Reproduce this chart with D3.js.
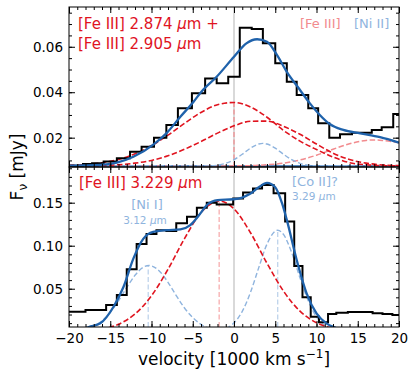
<!DOCTYPE html>
<html>
<head>
<meta charset="utf-8">
<script src="https://cdn.jsdelivr.net/npm/d3@7"></script>
<style>
body { margin: 0; background: #fff; }
text { font-family: "DejaVu Sans", sans-serif; }
</style>
</head>
<body>
<svg id="chart" width="415" height="378"></svg>
<script>
// ---- top panel: [Fe III] 2.874 + 2.905 um ----
// binned spectrum: left bin edge (1000 km/s) and flux (mJy)
const topEdges = [-20, -18.3, -17.2, -15.8, -14.2, -12.6, -11.2, -9.7, -8.2, -6.8, -5.1, -3.5, -2.1, -0.7,
    0.7, 2.15, 3.5, 5.0, 6.4, 7.6, 9.0, 10.2, 11.55, 12.85, 14.3, 16.7, 17.9, 19.3];
const topFlux = [0.0077, 0.0084, 0.0088, 0.0095, 0.0109, 0.0138, 0.016, 0.020, 0.0256, 0.0329, 0.0395, 0.046, 0.0439, 0.0468,
    0.0684, 0.0678, 0.0615, 0.0527, 0.0446, 0.0388, 0.0329, 0.0263, 0.020, 0.0215, 0.0222, 0.0234, 0.0246, 0.0304];

// total fit
const topFitV = [-20, -16.2, -14.2, -12.2, -9.7, -8.2, -6.5, -4.9, -4, -2.1, 0, 1.5, 2.8, 4, 5.2, 6.4, 8, 9.2, 10.4, 11.6, 13.25, 15.3, 17.7, 20];
const topFitF = [0.0077, 0.0080, 0.0090, 0.0116, 0.0172, 0.0219, 0.0292, 0.0358, 0.0400, 0.0468, 0.0556, 0.0615, 0.0633, 0.0622, 0.0564, 0.049, 0.041, 0.0351, 0.030, 0.026, 0.0234, 0.0219, 0.0202, 0.0178];

// components, read on a 2 unit grid
const topGrid = [-20, -18, -16, -14, -12, -10, -8, -6, -4, -2, 0, 2, 4, 6, 8, 10, 12, 14, 16, 18, 20];
const topFeA = [0.0078, 0.0082, 0.0090, 0.0104, 0.0129, 0.0165, 0.0211, 0.0263, 0.0311, 0.0345, 0.0355, 0.0335, 0.0290, 0.0232, 0.0185, 0.0148, 0.0115, 0.0090, 0.0081, 0.0077, 0.0076];
const topFeB = [0.0075, 0.0076, 0.0078, 0.0081, 0.0088, 0.0100, 0.0120, 0.0149, 0.0183, 0.0220, 0.0252, 0.0272, 0.0273, 0.0250, 0.0215, 0.0172, 0.0132, 0.0104, 0.0088, 0.0080, 0.0077];
const topNiV = [-20, -3, -2, -1, 0, 1, 2, 3, 3.5, 4, 5, 6, 7, 8, 9, 10, 20];
const topNiF = [0.0075, 0.0076, 0.0079, 0.0087, 0.0103, 0.0127, 0.0154, 0.0172, 0.0175, 0.0172, 0.0154, 0.0127, 0.0103, 0.0087, 0.0079, 0.0076, 0.0075];
const topFe3V = [-20, -4, 0, 2, 4, 6, 8, 10, 12, 14, 16, 17, 18, 20];
const topFe3F = [0.0075, 0.0075, 0.0076, 0.0077, 0.0081, 0.0088, 0.0102, 0.0123, 0.0149, 0.0173, 0.0188, 0.019, 0.0188, 0.0178];
const topCont = 0.0075;
const topMarkV = 0, topMarkF = 0.0355;

// ---- bottom panel: [Fe III] 3.229 um ----
const botEdges = [-20, -18.0, -15.5, -14.2, -13.0, -11.8, -10.6, -9.4, -8.2, -7.0, -5.7, -4.5, -3.3, -2.1, -0.1,
    1.1, 2.3, 3.4, 4.8, 6.2, 7.3, 8.3, 9.3, 10.3, 11.4, 12.4, 13.8, 15.6, 16.8, 18.0, 19.2];
const botFlux = [0.0233, 0.0252, 0.031, 0.0427, 0.0726, 0.102, 0.1136, 0.118, 0.117, 0.126, 0.1337, 0.144, 0.150, 0.148, 0.155,
    0.162, 0.1665, 0.1706, 0.161, 0.128, 0.0764, 0.040, 0.0174, 0.011, 0.0206, 0.0221, 0.0229, 0.023, 0.0214, 0.0206, 0.0194];

const botFitV = [-19, -17.6, -16.2, -14.6, -13.4, -12.2, -11, -9.8, -8.2, -6.5, -5.3, -4.2, -3.2, -2, -0.1, 1, 1.9, 3, 4, 5, 5.8, 6.4, 7.6, 8.8, 10, 11.2, 12.3, 13.5];
const botFitF = [0, 0.0055, 0.0098, 0.029, 0.052, 0.085, 0.108, 0.116, 0.118, 0.119, 0.124, 0.136, 0.148, 0.153, 0.154, 0.156, 0.160, 0.168, 0.173, 0.168, 0.150, 0.130, 0.0834, 0.0447, 0.0214, 0.0098, 0.0045, 0];

const botFeV = [-20, -16, -14, -12, -10, -8, -6, -4, -1.8, 0, 2, 4, 6, 8, 10, 12, 14, 16, 20];
const botFeF = [0.0003, 0.0031, 0.0087, 0.0206, 0.0418, 0.0726, 0.1083, 0.1385, 0.152, 0.1428, 0.1151, 0.0796, 0.0472, 0.0239, 0.0104, 0.0039, 0.0012, 0.0003, 0];
const botNiV = [-20, -18, -17, -16, -15, -14, -13, -12, -11, -10.3, -9, -8, -7, -6, -4, -2, 0, 20];
const botNiF = [0.0004, 0.0029, 0.0064, 0.0127, 0.0226, 0.036, 0.0514, 0.0656, 0.0749, 0.077, 0.0701, 0.0574, 0.042, 0.0276, 0.0085, 0.0017, 0.0002, 0];
const botCoV = [-20, -2, 0, 1, 2, 3, 4, 5.3, 6, 7, 8, 9, 10, 11, 12, 14, 20];
const botCoF = [0, 0.0011, 0.0103, 0.0236, 0.0458, 0.0745, 0.1019, 0.118, 0.1131, 0.0918, 0.0626, 0.0359, 0.0173, 0.007, 0.0024, 0.0001, 0];
const botMarks = [[-1.8, 0.152, "fe"], [-10.4, 0.077, "ni"], [5.3, 0.118, "ni"]];

const xTicks = [-20, -15, -10, -5, 0, 5, 10, 15, 20];
const topYTicks = [0.02, 0.04, 0.06];
const botYTicks = [0.05, 0.10, 0.15];

const RED = "#e0141f", PINK = "#f28b8e", LBLUE = "#8fb4de", BLUE = "#1f62ab";

const svg = d3.select("#chart");
const x = d3.scaleLinear().domain([-20, 20]).range([69, 399]);
const yTop = d3.scaleLinear().domain([0.0071, 0.0775]).range([167, 7]);
const yBot = d3.scaleLinear().domain([0.0055, 0.1915]).range([327, 167]);

const defs = svg.append("defs");

function pts(vs, fs) { return vs.map((v, i) => [v, fs[i]]); }

function panel(id, y, yTicks, yMinorStep) {
    const y0 = y.range()[1], y1 = y.range()[0];
    defs.append("clipPath").attr("id", id)
        .append("rect").attr("x", 69).attr("y", y0).attr("width", 330).attr("height", y1 - y0);
    const g = svg.append("g");
    const plot = g.append("g").attr("clip-path", `url(#${id})`);

    // zero velocity line
    plot.append("line")
        .attr("x1", x(0)).attr("x2", x(0)).attr("y1", y0).attr("y2", y1)
        .attr("stroke", "#cccccc").attr("stroke-width", 1.5);

    // axes with inward ticks
    const minorY = d3.range(Math.ceil(y.domain()[0] / yMinorStep) * yMinorStep, y.domain()[1], yMinorStep);
    const minorX = d3.range(-20, 21, 1);
    const ax = g.append("g");
    ax.append("g").attr("transform", "translate(69,0)")
        .call(d3.axisLeft(y).tickValues(yTicks).tickSize(-6).tickSizeOuter(0).tickPadding(6).tickFormat(d3.format(".2f")));
    ax.append("g").attr("transform", "translate(69,0)")
        .call(d3.axisLeft(y).tickValues(minorY).tickSize(-3).tickSizeOuter(0).tickFormat(""));
    ax.append("g").attr("transform", "translate(399,0)")
        .call(d3.axisRight(y).tickValues(yTicks).tickSize(-6).tickSizeOuter(0).tickFormat(""));
    ax.append("g").attr("transform", "translate(399,0)")
        .call(d3.axisRight(y).tickValues(minorY).tickSize(-3).tickSizeOuter(0).tickFormat(""));
    ax.append("g").attr("transform", `translate(0,${y0})`)
        .call(d3.axisTop(x).tickValues(xTicks).tickSize(-6).tickSizeOuter(0).tickFormat(""));
    ax.append("g").attr("transform", `translate(0,${y0})`)
        .call(d3.axisTop(x).tickValues(minorX).tickSize(-3).tickSizeOuter(0).tickFormat(""));
    ax.append("g").attr("class", "xb").attr("transform", `translate(0,${y1})`)
        .call(d3.axisBottom(x).tickValues(xTicks).tickSize(-6).tickSizeOuter(0).tickPadding(6).tickFormat(d3.format("d")));
    ax.append("g").attr("transform", `translate(0,${y1})`)
        .call(d3.axisBottom(x).tickValues(minorX).tickSize(-3).tickSizeOuter(0).tickFormat(""));
    ax.selectAll(".domain").remove();
    ax.selectAll("g").attr("font-family", "DejaVu Sans").attr("font-size", 13.5);
    ax.selectAll(".tick line").attr("stroke", "#000").attr("stroke-width", 1);
    ax.selectAll(".tick text").attr("fill", "#000");

    return { g, plot, y };
}

function curve(p, data, color, width, dash) {
    const line = d3.line().x(d => x(d[0])).y(d => p.y(d[1])).curve(d3.curveMonotoneX);
    p.plot.append("path").datum(data)
        .attr("d", line).attr("fill", "none")
        .attr("stroke", color).attr("stroke-width", width)
        .attr("stroke-dasharray", dash || null);
}

function steps(p, edges, flux) {
    const data = edges.map((e, i) => [e, flux[i]]);
    data.push([20, flux[flux.length - 1]]);
    const line = d3.line().x(d => x(d[0])).y(d => p.y(d[1])).curve(d3.curveStepAfter);
    p.plot.append("path").datum(data)
        .attr("d", line).attr("fill", "none")
        .attr("stroke", "#000").attr("stroke-width", 2);
}

function marker(p, v, f, color) {
    p.plot.append("line")
        .attr("x1", x(v)).attr("x2", x(v)).attr("y1", p.y.range()[0]).attr("y2", p.y(f))
        .attr("stroke", color).attr("stroke-width", 1.2).attr("stroke-dasharray", "5,2.5");
}

// ---- top panel ----
const pt = panel("clipTop", yTop, topYTicks, 0.005);
pt.g.select(".xb").selectAll(".tick text").remove();
marker(pt, topMarkV, topMarkF, PINK);
curve(pt, [[-20, topCont], [20, topCont]], BLUE, 1.5);
curve(pt, pts(topFe3V, topFe3F), PINK, 1.5, "5.5,2.5");
curve(pt, pts(topNiV, topNiF), LBLUE, 1.4, "5,2.5");
curve(pt, pts(topGrid, topFeA), RED, 1.6, "5.5,2.5");
curve(pt, pts(topGrid, topFeB), RED, 1.6, "5.5,2.5");
steps(pt, topEdges, topFlux);
curve(pt, pts(topFitV, topFitF), BLUE, 2.3);

// ---- bottom panel ----
const pb = panel("clipBot", yBot, botYTicks, 0.01);
botMarks.forEach(m => marker(pb, m[0], m[1], m[2] === "fe" ? "#f6a6a8" : "#b9d0ea"));
curve(pb, pts(botNiV, botNiF), LBLUE, 1.4, "5,2.5");
curve(pb, pts(botCoV, botCoF), LBLUE, 1.4, "5,2.5");
curve(pb, pts(botFeV, botFeF), RED, 1.6, "5.5,2.5");
steps(pb, botEdges, botFlux);
curve(pb, pts(botFitV, botFitF), BLUE, 2.3);

// frames
[[7, 167], [167, 327]].forEach(r => {
    svg.append("rect").attr("x", 69).attr("y", r[0]).attr("width", 330).attr("height", r[1] - r[0])
        .attr("fill", "none").attr("stroke", "#000").attr("stroke-width", 1);
});

// ---- labels ----
function label(xp, yp, size, color, parts, anchor) {
    const t = svg.append("text").attr("x", xp).attr("y", yp)
        .attr("font-size", size).attr("fill", color).attr("text-anchor", anchor || "start");
    parts.forEach(s => {
        const ts = t.append("tspan").text(s.replace(/^_/, ""));
        if (s.startsWith("_")) ts.attr("font-style", "italic");
    });
    return t;
}
label(78, 29, 15, RED, ["[Fe III] 2.874 ", "_μ", "m +"]);
label(78, 49, 15, RED, ["[Fe III] 2.905 ", "_μ", "m"]);
label(300, 28, 13, PINK, ["[Fe III]"]);
label(354, 28, 13, LBLUE, ["[Ni II]"]);
label(79, 188, 15, RED, ["[Fe III] 3.229 ", "_μ", "m"]);
label(147, 209, 13, LBLUE, ["[Ni I]"], "middle");
label(145, 224, 10.5, LBLUE, ["3.12 ", "_μ", "m"], "middle");
label(292, 186, 13, LBLUE, ["[Co II]?"]);
label(292, 199.5, 10.5, LBLUE, ["3.29 ", "_μ", "m"]);

// axis titles
const xt = svg.append("text").attr("x", 234).attr("y", 365)
    .attr("font-size", 17).attr("text-anchor", "middle").attr("fill", "#000");
xt.append("tspan").text("velocity [1000 km s");
xt.append("tspan").attr("dy", -7).attr("font-size", 12).text("−1");
xt.append("tspan").attr("dy", 7).text("]");

const yt = svg.append("text").attr("transform", "translate(23,167) rotate(-90)")
    .attr("font-size", 17).attr("text-anchor", "middle").attr("fill", "#000");
yt.append("tspan").text("F");
yt.append("tspan").attr("dy", 4).attr("font-size", 12).text("ν");
yt.append("tspan").attr("dy", -4).text(" [mJy]");
</script>
</body>
</html>
